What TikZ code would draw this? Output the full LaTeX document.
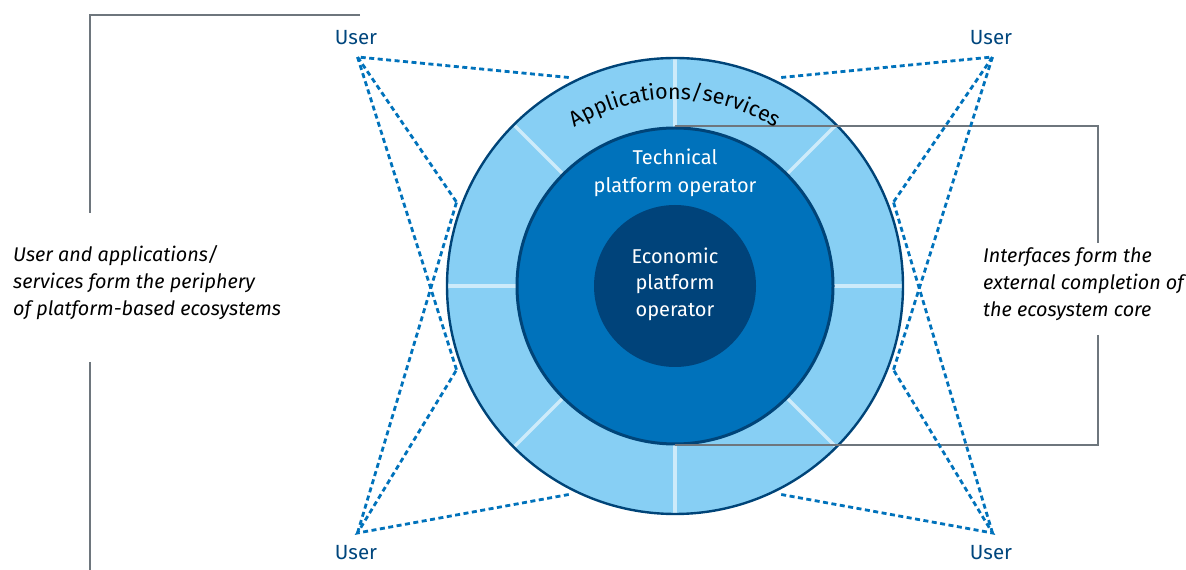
\documentclass[tikz,border=0pt]{standalone}
\usepackage{fontspec}
\setmainfont{Fira Sans}
\usetikzlibrary{decorations.text}
\definecolor{ringfill}{RGB}{135,207,244}
\definecolor{divcol}{RGB}{205,235,250}
\definecolor{outlinecol}{RGB}{0,68,120}
\definecolor{techcol}{RGB}{0,114,187}
\definecolor{econcol}{RGB}{0,67,122}
\definecolor{dotcol}{RGB}{0,114,187}
\definecolor{graycol}{RGB}{110,118,125}
\definecolor{usercol}{RGB}{0,70,125}
\tikzset{
  divider/.style={draw=divcol,line width=3.5pt},
  dotline/.style={draw=dotcol,line width=2.8pt,dash pattern=on 5pt off 3.5pt},
  bracket/.style={draw=graycol,line width=1.4pt},
  usertext/.style={text=usercol,font=\fontsize{20.5}{24}\selectfont,inner sep=0pt},
  sidetext/.style={font=\fontsize{19.8}{27}\itshape\selectfont,align=left,anchor=west,inner sep=0pt},
  whitetext/.style={text=white,align=center,inner sep=0pt}
}
\begin{document}
\begin{tikzpicture}[x=1pt,y=1pt]
\useasboundingbox (0,0) rectangle (1186,570);
\coordinate (C) at (675,284);
% ring
\fill[ringfill] (C) circle[radius=228pt];
\foreach \a in {0,45,...,315}
  \draw[divider] ([shift={(\a:158pt)}]C) -- ([shift={(\a:228pt)}]C);
\draw[outlinecol,line width=2.4pt] (C) circle[radius=228pt];
\filldraw[fill=techcol,draw=outlinecol,line width=3pt] (C) circle[radius=158pt];
\fill[econcol] (C) circle[radius=81pt];
% brackets
\coordinate (lt1) at (360,555);
\coordinate (lt2) at (90,555);
\coordinate (lt3) at (90,357);
\coordinate (lb1) at (90,208);
\coordinate (lb2) at (90,0);
\coordinate (rt1) at (675,444);
\coordinate (rt2) at (1098,444);
\coordinate (rt3) at (1098,327);
\coordinate (rb1) at (1098,235);
\coordinate (rb2) at (1098,125);
\coordinate (rb3) at (675,125);
\draw[bracket] (lt1) -- (lt2) -- (lt3);
\draw[bracket] (lb1) -- (lb2);
\draw[bracket] (rt1) -- (rt2) -- (rt3);
\draw[bracket] (rb1) -- (rb2) -- (rb3);
% curved text
\path[decorate,decoration={text along path,text align=center,
  text={|\fontsize{21.5}{25}\selectfont|Applications/services}}]
  ([shift={(125:187pt)}]C) arc[start angle=125,end angle=55,radius=187pt];
% centre texts
\node[whitetext,font=\fontsize{20}{28}\selectfont] (tech) at (675,397) {Technical\\platform operator};
\node[whitetext,font=\fontsize{20}{26.5}\selectfont] (econ) at (675,286) {Economic\\platform\\operator};
% side texts
\node[sidetext] (lefttext) at (13,287) {User and applications/\\services form the periphery\\of platform-based ecosystems};
\node[sidetext] (righttext) at (983,286) {Interfaces form the\\external completion of\\the ecosystem core};
% users
\node[usertext] (utl) at (356,532) {User};
\node[usertext] (ubl) at (356,17) {User};
\node[usertext] (utr) at (991,532) {User};
\node[usertext] (ubr) at (991,17) {User};
\coordinate (atl) at (357.5,513);
\coordinate (abl) at (357.5,37);
\coordinate (atr) at (992.5,513);
\coordinate (abr) at (992.5,37);
\foreach \n/\a in {l1/117,l2/159,l3/201,l4/243,r1/63,r2/21,r3/-21,r4/-63}
  \coordinate (p\n) at ([shift={(\a:234pt)}]C);
\draw[dotline] (pl1) -- (atl) -- (pl2);
\draw[dotline] (atl) -- (pl3);
\draw[dotline] (pl4) -- (abl) -- (pl3);
\draw[dotline] (abl) -- (pl2);
\draw[dotline] (pr1) -- (atr) -- (pr2);
\draw[dotline] (atr) -- (pr3);
\draw[dotline] (pr4) -- (abr) -- (pr3);
\draw[dotline] (abr) -- (pr2);
\end{tikzpicture}
\end{document}
